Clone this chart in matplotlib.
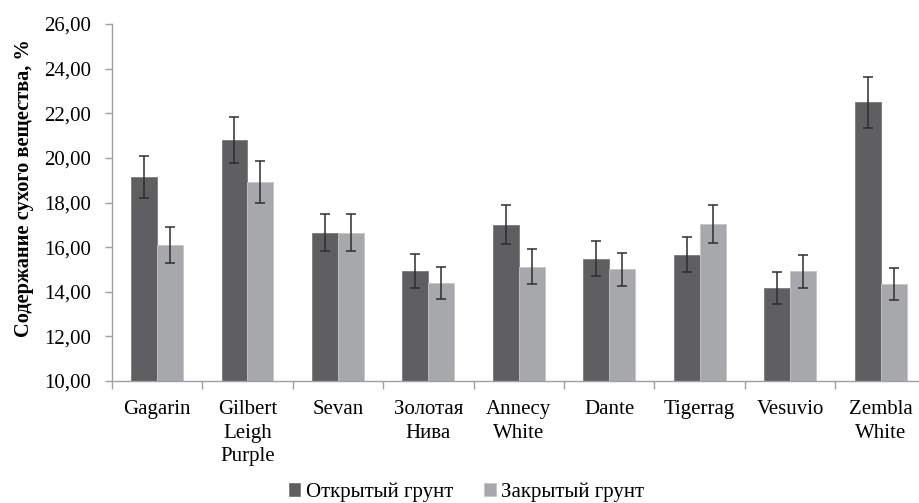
import numpy as np
import matplotlib.pyplot as plt
from matplotlib.ticker import FuncFormatter, FixedLocator

plt.rcParams['font.family'] = 'serif'
plt.rcParams['font.serif'] = ['Liberation Serif', 'Times New Roman', 'DejaVu Serif']

# сорта
varieties = ['Gagarin', 'Gilbert\nLeigh\nPurple', 'Sevan', 'Золотая\nНива',
             'Annecy\nWhite', 'Dante', 'Tigerrag', 'Vesuvio', 'Zembla\nWhite']

# открытый грунт
open_vals = [19.13, 20.79, 16.65, 14.95, 17.00, 15.48, 15.66, 14.18, 22.49]
open_err = [0.95, 1.03, 0.83, 0.76, 0.87, 0.78, 0.78, 0.71, 1.14]

# закрытый грунт
closed_vals = [16.08, 18.92, 16.65, 14.39, 15.12, 15.00, 17.04, 14.91, 14.35]
closed_err = [0.80, 0.93, 0.83, 0.72, 0.78, 0.75, 0.85, 0.74, 0.73]

dark = '#5f5f61'
light = '#a7a8ab'

fig = plt.figure(figsize=(9.2, 5.03), dpi=100)
ax = fig.add_axes([0.1214, 0.2425, 0.885, 0.7098])

x = np.arange(len(varieties))
w = 1 / 3.5
err_kw = dict(ecolor='#2e2e2e', elinewidth=1.1, capsize=3.6, capthick=1.1)
ax.bar(x - w / 2, open_vals, w, yerr=open_err, color=dark, edgecolor='#7a7a7c',
       linewidth=0.6, label='Открытый грунт', error_kw=err_kw)
ax.bar(x + w / 2, closed_vals, w, yerr=closed_err, color=light, edgecolor='#c4c5c7',
       linewidth=0.6, label='Закрытый грунт', error_kw=err_kw)

ax.set_xlim(-0.5, len(varieties) - 0.5)
ax.set_ylim(10, 26)
ax.set_yticks(np.arange(10, 27, 2))
ax.yaxis.set_major_formatter(FuncFormatter(lambda v, p: f'{v:.2f}'.replace('.', ',')))

ax.set_xticks(x)
ax.set_xticklabels(varieties, fontsize=15, linespacing=1.3)
ax.xaxis.set_minor_locator(FixedLocator(np.arange(-0.5, len(varieties), 1)))
ax.tick_params(axis='x', which='major', length=0, pad=14)
ax.tick_params(axis='x', which='minor', length=6, color='#a0a0a0', width=1)
ax.tick_params(axis='y', length=5, color='#a0a0a0', width=1, labelsize=15, pad=10)

for side in ['top', 'right']:
    ax.spines[side].set_visible(False)
for side in ['left', 'bottom']:
    ax.spines[side].set_color('#a0a0a0')
    ax.spines[side].set_linewidth(1)

ax.set_ylabel('Содержание сухого вещества, %', fontsize=14.7, fontweight='bold')
ax.yaxis.set_label_coords(-0.095, 0.54)

fig.legend(loc='center', bbox_to_anchor=(0.507, 0.022), ncol=2, frameon=False,
           fontsize=15, handlelength=0.55, handleheight=0.55, handletextpad=0.25,
           columnspacing=1.5)

fig.savefig('out.png', dpi=100)
